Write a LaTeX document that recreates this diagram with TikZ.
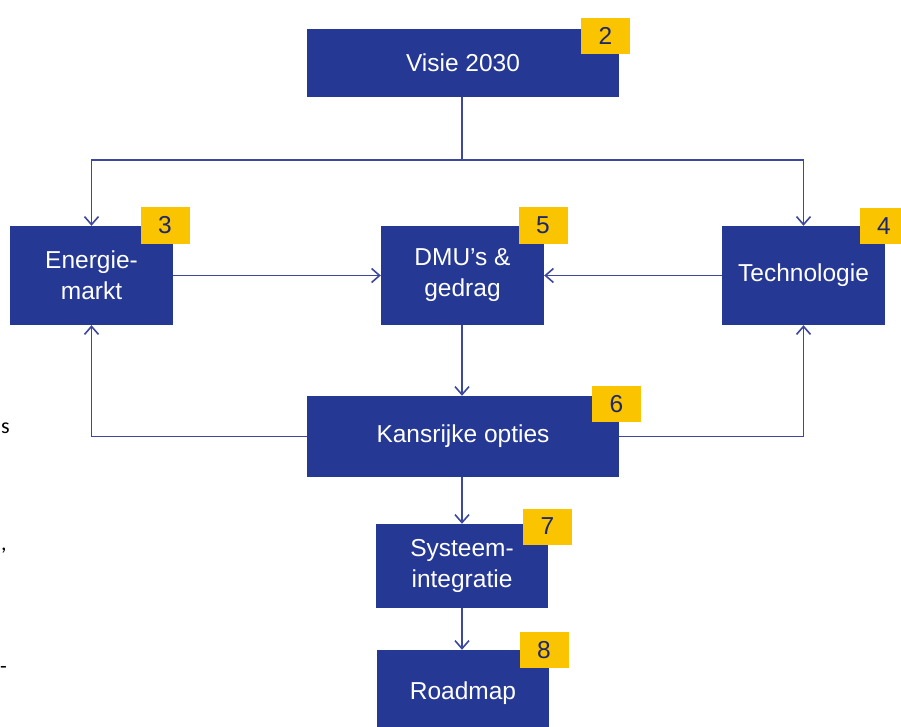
\documentclass[tikz,border=0pt]{standalone}
\usepackage{fontspec}
\setmainfont{Liberation Sans}
\newfontfamily\fragfont{Carlito}
\usetikzlibrary{arrows.meta}
\definecolor{boxblue}{RGB}{36,56,148}
\definecolor{badgeyellow}{RGB}{250,196,0}
\definecolor{numblue}{RGB}{30,40,110}
\definecolor{linecol}{RGB}{60,72,158}
\begin{document}
\begin{tikzpicture}[x=1pt,y=-1pt,
  mainbox/.style={fill=boxblue,draw=none,text=white,inner sep=0pt,align=center,
    font=\fontsize{24.5}{31}\selectfont},
  badge/.style={fill=badgeyellow,draw=none,text=numblue,inner sep=0pt,
    minimum width=49pt,minimum height=36pt,font=\fontsize{24.5}{28}\selectfont},
  conn/.style={draw=linecol,line width=1.6pt},
  arr/.style={conn,-{Straight Barb[length=8pt,width=14pt,line width=1.6pt]}},
  frag/.style={inner sep=0pt,font=\fragfont\fontsize{22}{26}\selectfont,text=black}
]
\useasboundingbox (0,0) rectangle (901,727);
% main boxes
\node[mainbox,minimum width=312pt,minimum height=68pt] (visie) at (463,63) {Visie 2030};
\node[mainbox,minimum width=163pt,minimum height=99pt] (energie) at (91.5,275.5) {Energie-\\markt};
\node[mainbox,minimum width=163pt,minimum height=99pt] (dmu) at (462.5,275.5) {DMU’s \&\\gedrag};
\node[mainbox,minimum width=163pt,minimum height=99pt] (tech) at (803.5,275.5) {Technologie};
\node[mainbox,minimum width=312pt,minimum height=81pt] (kans) at (463,436.5) {Kansrijke opties};
\node[mainbox,minimum width=172pt,minimum height=84pt] (sys) at (462,566) {Systeem-\\integratie};
\node[mainbox,minimum width=172pt,minimum height=86pt] (road) at (463,693) {Roadmap};
% badges
\node[badge] (b2) at (605.5,36) {2};
\node[badge] (b3) at (165,225.5) {3};
\node[badge] (b5) at (543,225.5) {5};
\node[badge] (b4) at (884,226) {4};
\node[badge] (b6) at (616.5,404) {6};
\node[badge] (b7) at (547.5,526.5) {7};
\node[badge] (b8) at (544,650) {8};
% connectors
\coordinate (split) at (462,160);
\draw[conn] (visie.south -| split) -- (split);
\draw[arr] (split) -| (energie.north);
\draw[arr] (split) -| (tech.north);
\draw[arr] (energie.east) -- (dmu.west);
\draw[arr] (tech.west) -- (dmu.east);
\draw[arr] (dmu.south -| split) -- (kans.north -| split);
\draw[arr] (kans.west) -| (energie.south);
\draw[arr] (kans.east) -| (tech.south);
\draw[arr] (kans.south -| split) -- (sys.north -| split);
\draw[arr] (sys.south -| split) -- (road.north -| split);
% fragments of neighbouring text at the left edge
\node[frag,anchor=base west] (f1) at (1,433) {s};
\node[frag,anchor=base west] (f2) at (1,550) {,};
\node[frag,anchor=base west] (f3) at (0,673) {-};
\end{tikzpicture}
\end{document}
